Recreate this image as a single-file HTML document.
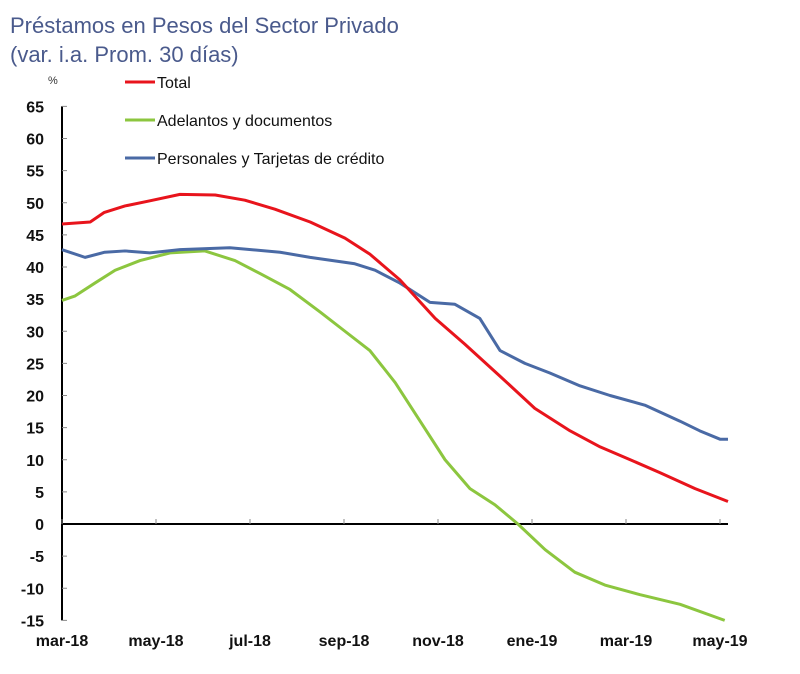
<!DOCTYPE html>
<html><head><meta charset="utf-8"><style>
body{margin:0;background:#fff;width:800px;height:669px;overflow:hidden;font-family:"Liberation Sans",sans-serif}
</style></head><body>
<svg id="c" width="800" height="669" xmlns="http://www.w3.org/2000/svg">
<text x="10" y="33" font-size="22" fill="#4a5a8c">Préstamos en Pesos del Sector Privado</text>
<text x="10" y="62" font-size="22" fill="#4a5a8c">(var. i.a. Prom. 30 días)</text>
<text x="48" y="84" font-size="11" fill="#333">%</text>
<g>
<line x1="125" y1="82" x2="155" y2="82" stroke="#e8141c" stroke-width="3"/><text x="157" y="88" font-size="16" fill="#111">Total</text>
<line x1="125" y1="120" x2="155" y2="120" stroke="#8cc63f" stroke-width="3"/><text x="157" y="126" font-size="16" fill="#111">Adelantos y documentos</text>
<line x1="125" y1="158" x2="155" y2="158" stroke="#4a6aa5" stroke-width="3"/><text x="157" y="164" font-size="16" fill="#111">Personales y Tarjetas de crédito</text>
</g>
<g id="ax"></g><g id="series"></g>
</svg>
<script>
const xLabels=["mar-18","may-18","jul-18","sep-18","nov-18","ene-19","mar-19","may-19"];
const yTicks=[65,60,55,50,45,40,35,30,25,20,15,10,5,0,-5,-10,-15];
const totalM=[0,0.6,0.9,1.34,1.87,2.51,3.26,3.89,4.53,5.28,6.02,6.55,7.19,7.94,8.57,9.32,10.06,10.81,11.45,12.09,12.72,13.47,14.17];
const totalV=[46.7,47,48.5,49.5,50.3,51.3,51.2,50.4,49,47,44.5,42,38,32,28,23,18,14.5,12,10,8,5.5,3.5];
const adelM=[0,0.28,0.7,1.13,1.66,2.3,3.04,3.68,4.21,4.85,5.49,6.02,6.55,7.09,7.62,8.15,8.68,9.21,9.7,10.28,10.91,11.55,12.3,13.15,14.1];
const adelV=[34.8,35.5,37.5,39.5,41,42.2,42.5,41,39,36.5,33,30,27,22,16,10,5.5,3,0,-4,-7.5,-9.5,-11,-12.5,-15];
const persM=[0,0.49,0.91,1.34,1.87,2.51,3.57,4.64,5.28,6.23,6.66,7.19,7.83,8.36,8.89,9.32,9.85,10.38,11.02,11.66,12.4,13.15,13.57,14,14.17];
const persV=[42.7,41.5,42.3,42.5,42.2,42.7,43,42.3,41.5,40.5,39.5,37.5,34.5,34.2,32,27,25,23.5,21.5,20,18.5,16,14.5,13.2,13.2];
const X=m=>62+m*47;
const Y=v=>524-v*6.425;
const ns="http://www.w3.org/2000/svg";
const ax=document.getElementById('ax'),se=document.getElementById('series');
function mk(t,a,p){const e=document.createElementNS(ns,t);for(const k in a)e.setAttribute(k,a[k]);p.appendChild(e);return e;}
let yl=mk('line',{x1:62,y1:Y(65),x2:62,y2:Y(-15),stroke:'#000','stroke-width':2},ax);


yTicks.forEach(v=>{
 mk('line',{x1:62,y1:Y(v),x2:67,y2:Y(v),stroke:'#888'},ax);
 const t=mk('text',{x:44,y:Y(v)+6,'font-size':16,'font-weight':'bold','text-anchor':'end',fill:'#111'},ax);
 t.textContent=v;
 
 
});
let xl=mk('line',{x1:62,y1:Y(0),x2:728,y2:Y(0),stroke:'#000','stroke-width':2},ax);


xLabels.forEach((l,i)=>{
 const x=X(i*2);
 mk('line',{x1:x,y1:Y(0),x2:x,y2:Y(0)-5,stroke:'#888'},ax);
 const t=mk('text',{x:x,y:646,'font-size':16,'font-weight':'bold','text-anchor':'middle',fill:'#111'},ax);
 t.textContent=l;
 
 
});
function line(ms,vs,c,name){
 const p=mk('polyline',{points:ms.map((m,i)=>X(m)+','+Y(vs[i])).join(' '),fill:'none',stroke:c,'stroke-width':3,'stroke-linejoin':'round'},se);
 
 
}
line(adelM,adelV,'#8cc63f','line-adelantos');
line(persM,persV,'#4a6aa5','line-personales');
line(totalM,totalV,'#e8141c','line-total');
</script>
</body></html>
